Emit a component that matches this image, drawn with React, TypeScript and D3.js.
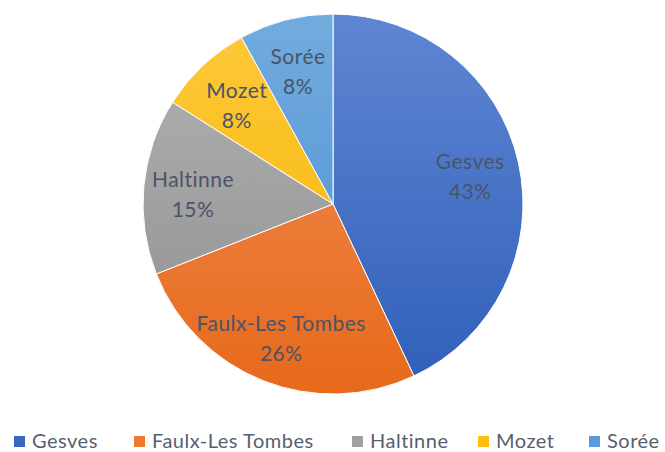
import React, { useEffect, useRef } from 'react'
import * as d3 from 'd3'

const villages = ['Gesves', 'Faulx-Les Tombes', 'Haltinne', 'Mozet', 'Sorée']
const shares = [43, 26, 15, 8, 8]
const topColors = ['#5f86d2', '#f19058', '#b3b3b3', '#ffc83a', '#72abde']
const bottomColors = ['#2f5fb9', '#e7691b', '#8e8e8e', '#f2b600', '#4b8fd4']
const legendColors = ['#3a66c0', '#ee7a30', '#a0a0a0', '#fdc010', '#5a9ad8']

const W = 665, H = 452
const cx = 333, cy = 204, r = 190
const legendX = [14, 134, 352, 478, 589]

const App = () => {
  const ref = useRef<SVGSVGElement>(null)

  useEffect(() => {
    const svg = d3.select(ref.current)
    svg.selectAll('*').remove()

    const defs = svg.append('defs')
    villages.forEach((v, i) => {
      const g = defs.append('linearGradient')
        .attr('id', 'grad' + i)
        .attr('gradientUnits', 'userSpaceOnUse')
        .attr('x1', 0).attr('y1', -r)
        .attr('x2', 0).attr('y2', r)
      g.append('stop').attr('offset', '0%').attr('stop-color', topColors[i])
      g.append('stop').attr('offset', '100%').attr('stop-color', bottomColors[i])
    })

    const pie = d3.pie<number>().sort(null).value(d => d)
    const arcs = pie(shares)
    const arc = d3.arc<d3.PieArcDatum<number>>().innerRadius(0).outerRadius(r)
    const labelArc = d3.arc<d3.PieArcDatum<number>>().innerRadius(r * 0.74).outerRadius(r * 0.74)

    const total = d3.sum(shares)
    const g = svg.append('g').attr('transform', 'translate(' + cx + ',' + cy + ')')

    g.selectAll('path')
      .data(arcs)
      .enter()
      .append('path')
        .attr('d', d => arc(d))
        .attr('fill', (d, i) => 'url(#grad' + i + ')')
        .attr('stroke', 'white')
        .attr('stroke-width', 1)

    const labels = g.selectAll('text.lbl')
      .data(arcs)
      .enter()
      .append('text')
        .attr('class', 'lbl')
        .attr('transform', d => 'translate(' + labelArc.centroid(d) + ')')
        .attr('text-anchor', 'middle')
        .attr('font-family', 'Lato, sans-serif')
        .attr('font-size', 21)
        .attr('letter-spacing', 0.5)
        .attr('fill', '#4a5468')
    labels.append('tspan')
      .attr('x', 0).attr('y', -4)
      .text((d, i) => villages[i])
    labels.append('tspan')
      .attr('x', 0).attr('y', 26)
      .text(d => Math.round(d.value / total * 100) + '%')

    const legend = svg.append('g')
      .selectAll('g')
      .data(villages)
      .enter()
      .append('g')
        .attr('transform', (d, i) => 'translate(' + legendX[i] + ',441)')
    legend.append('rect')
      .attr('x', 0).attr('y', -5)
      .attr('width', 11).attr('height', 11)
      .attr('fill', (d, i) => legendColors[i])
    legend.append('text')
      .attr('x', 18).attr('y', 7)
      .attr('font-family', 'Lato, sans-serif')
      .attr('font-size', 20)
      .attr('letter-spacing', 0.5)
      .attr('fill', '#586070')
      .text(d => d)
  }, [])

  return (
    <svg ref={ref} width={W} height={H}
      style={{ position: 'absolute', left: 0, top: 0, background: 'white' }} />
  )
}

export default App
